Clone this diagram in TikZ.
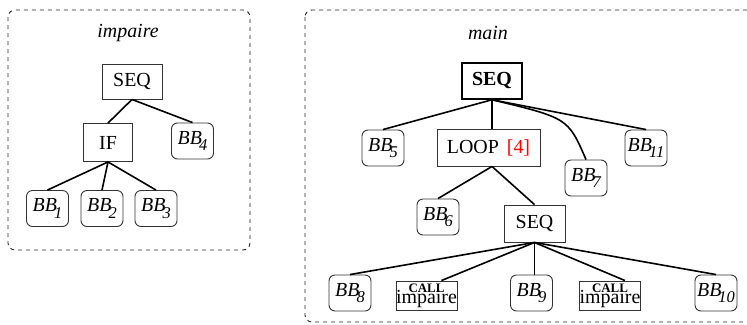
\documentclass[tikz,border=0pt]{standalone}
\usepackage{fontspec}
\setmainfont{Liberation Serif}
\newcommand{\bbsub}[1]{\textit{BB\kern-3bp\raisebox{-6.5bp}{\fontsize{16.5}{16.5}\selectfont #1}}}
\begin{document}
\begin{tikzpicture}[x=1bp, y=-1bp,
  font=\fontsize{20}{24}\selectfont,
  every node/.style={inner sep=0pt},
  region/.style={draw=black!85, line width=0.9bp, dash pattern=on 4bp off 4bp, rounded corners=7bp},
  boite/.style={draw=black!80, line width=0.9bp, minimum height=36bp},
  bloc/.style={draw=black!80, line width=0.9bp, rounded corners=6bp, minimum width=42bp, minimum height=36bp},
  appel/.style={boite, minimum width=61bp, minimum height=29bp, align=center},
  lien/.style={line width=1.6bp}]
\useasboundingbox (0,0) rectangle (747,324);

% les deux fonctions
\draw[region] (8,10) rectangle (250,250);
\draw[region] (305,10) rectangle (762,322);
\node (titrea) at (128,33) {\textit{impaire}};
\node (titreb) at (488,33) {\textit{main}};

% impaire
\node[boite, minimum width=60bp, minimum height=35bp] (seqa) at (132,81.5) {SEQ};
\node[boite, minimum width=49bp, minimum height=38bp] (si) at (108,142.5) {IF};
\node[bloc] (bb4) at (192.5,141) {\bbsub{4}};
\node[bloc] (bb1) at (47.5,208.5) {\bbsub{1}};
\node[bloc] (bb2) at (102,208.5) {\bbsub{2}};
\node[bloc] (bb3) at (156,208.5) {\bbsub{3}};

\draw[lien] (seqa.south) -- (si.north);
\draw[lien] (seqa.south) -- (bb4.north);
\draw[lien] (si.south) -- (bb1.north);
\draw[lien] (si.south) -- (bb2.north);
\draw[lien] (si.south) -- (bb3.north);

% main
\node[boite, draw=black, line width=1.5bp, minimum width=60bp, font=\fontsize{20}{24}\selectfont\bfseries] (seqm) at (492,81) {SEQ};
\node[bloc] (bb5) at (383,148) {\bbsub{5}};
\node[boite, minimum width=103bp, minimum height=37bp] (loop) at (488.5,147.5) {LOOP\hspace{0.4em}\textcolor{red}{[4]}};
\node[bloc] (bb7) at (586,178) {\bbsub{7}};
\node[bloc] (bb11) at (646,148) {\bbsub{11}};
\node[bloc] (bb6) at (438,217) {\bbsub{6}};
\node[boite, minimum width=61bp, minimum height=37bp] (seqb) at (534.5,223.5) {SEQ};
\node[bloc] (bb8) at (350,293) {\bbsub{8}};
\node[appel] (call1) at (426.5,295.5) {{\fontsize{13}{13}\selectfont\bfseries CALL}\\[-12.6bp]impaire};
\node[bloc] (bb9) at (531.5,293) {\bbsub{9}};
\node[appel] (call2) at (610,295.5) {{\fontsize{13}{13}\selectfont\bfseries CALL}\\[-12.6bp]impaire};
\node[bloc] (bb10) at (716,293) {\bbsub{10}};

\draw[lien] (seqm.south) -- (bb5.north);
\draw[lien] (seqm.south) -- (seqm.south |- loop.north);
\draw[lien] (seqm.south) .. controls (568,118) .. (bb7.north);
\draw[lien] (seqm.south) -- (bb11.north);
\draw[lien] (seqm.south |- loop.south) -- (bb6.north);
\draw[lien] (seqm.south |- loop.south) -- (seqb.north);
\draw[lien] (seqb.south) -- (bb8.north);
\draw[lien] (seqb.south) -- (call1.45);
\draw[lien] (seqb.south) -- (seqb.south |- bb9.north);
\draw[lien] (seqb.south) -- (call2.45);
\draw[lien] (seqb.south) -- (bb10.north);
\end{tikzpicture}
\end{document}
